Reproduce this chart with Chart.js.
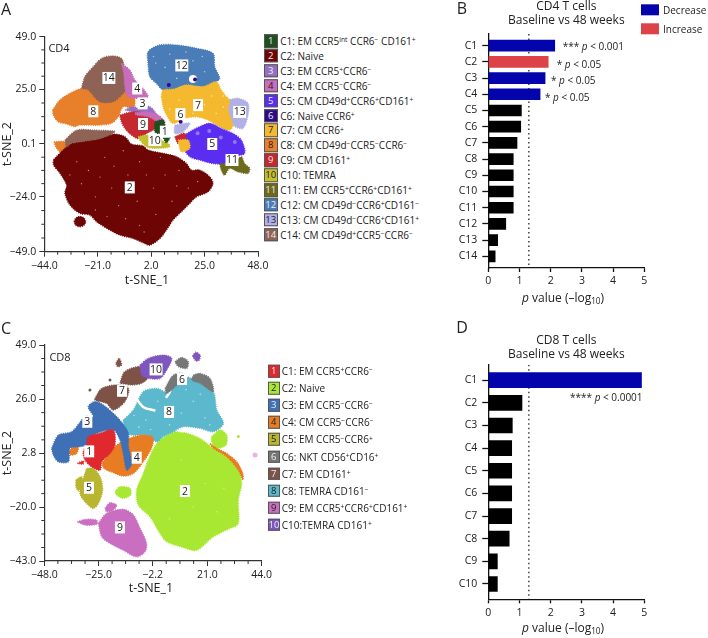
<!DOCTYPE html>
<html>
<head>
<meta charset="utf-8">
<script src="https://cdn.jsdelivr.net/npm/chart.js@4"></script>
<style>
html,body{margin:0;padding:0;background:#fff;}
#page{position:relative;width:708px;height:638px;overflow:hidden;font-family:"Open Sans",sans-serif;color:#222;}
#page canvas{position:absolute;}
.t{position:absolute;white-space:nowrap;line-height:1;}
.c{transform:translate(-50%,-50%);}
.l{transform:translateY(-50%);}
.t sup{font-size:0.68em;line-height:0;vertical-align:baseline;position:relative;top:-0.42em;}
.t sub{font-size:0.68em;line-height:0;vertical-align:baseline;position:relative;top:0.3em;}
.sw{position:absolute;box-sizing:border-box;border:1px solid #555;font-size:9.5px;text-align:center;transform:translateY(-50%);}
</style>
</head>
<body>
<div id="page">
<canvas id="tsneCd4" style="left:0;top:0"></canvas>
<canvas id="barCd4" style="left:450px;top:0"></canvas>
<canvas id="tsneCd8" style="left:0;top:320px"></canvas>
<canvas id="barCd8" style="left:450px;top:334px"></canvas>
</div>
<script>
// bar panels
const cd4Clusters = ['C1','C2','C3','C4','C5','C6','C7','C8','C9','C10','C11','C12','C13','C14'];
const cd4PValues = [2.13,1.92,1.82,1.66,1.06,1.04,0.92,0.80,0.80,0.80,0.80,0.56,0.30,0.22];
const cd4Change = ['d','i','d','d','n','n','n','n','n','n','n','n','n','n'];
const cd8Clusters = ['C1','C2','C3','C4','C5','C6','C7','C8','C9','C10'];
const cd8PValues = [4.91,1.08,0.77,0.75,0.75,0.75,0.75,0.67,0.29,0.29];
const cd8Change = ['d','n','n','n','n','n','n','n','n','n'];
const pTicks = [0,1,2,3,4,5];
const pCutoff = 1.3;

// t-SNE axes
const cd4XTicks = [-44,-21,2,25,48];
const cd4YTicks = [-49,-24,0.1,25,49];
const cd8XTicks = [-48,-25,-2.2,21,44];
const cd8YTicks = [-43,-20,2.8,26,49];

// CD4 cluster outlines, t-SNE_1 / t-SNE_2
const cd4C2 = [[-40,-7],[-34.4,-1.2],[-32.3,.4],[-20,2.6],[-14.3,4.6],[-9.3,3.4],[-6.5,.1],[-1.5,-.8],[.7,-2.7],[8.6,-4.5],[12.9,-5.7],[17.2,-8.8],[19.3,-11.8],[22.9,-11.8],[27.2,-14.8],[28.6,-17.9],[26.5,-21.7],[21.5,-24],[18.6,-27],[14.3,-31.5],[11.4,-34.6],[8.6,-39.1],[5.7,-43],[1.4,-46],[-1.5,-44.9],[-5.7,-43],[-11.5,-41.4],[-15.8,-39.1],[-21.5,-35.3],[-24.4,-32.3],[-28.7,-31.5],[-33,-27.7],[-35.1,-22.4],[-34.4,-18.6],[-37.2,-13.3],[-40,-9.5]];
const cd4C2b = [[-31.2,-35.3],[-30.4,-33.6],[-28.7,-33],[-27,-33.6],[-26.2,-35.3],[-27,-37],[-28.7,-37.6],[-30.4,-37]];
const cd4C14 = [[-28,25.4],[-26.5,30.8],[-22.9,35.3],[-19.4,39.1],[-15.1,40.2],[-10.8,39.1],[-9.3,33.8],[-7.9,26.2],[-10.8,22.4],[-14.3,19.4],[-20.1,19.4],[-25.1,24.7]];
const cd4C14b = [[-35.1,1.9],[-30.1,6.4],[-22.9,6.4],[-13.6,5.7],[-20,2.6],[-32.3,.4],[-34.4,-1.2]];
const cd4C8 = [[-40.4,15.6],[-37.3,20.1],[-33,23.2],[-28,25.4],[-25.1,24.7],[-20.1,20.1],[-14.3,19.4],[-11.5,23.2],[-6.5,23.9],[-5,20.1],[-5.7,16.3],[-10,17.1],[-12.2,12.5],[-15.1,9.5],[-20.1,8.7],[-28.7,8.7],[-30.8,8],[-34.4,9.2],[-38,10.2],[-40.1,13.3]];
const cd4C8b = [[-39.8,1.1],[-35.1,1.1],[-34.4,-1.2],[-35.8,-4.5],[-38.7,-1.9]];
const cd4C4 = [[-10.8,36.8],[-7.2,33.8],[-5,29.2],[-1.5,25.4],[.7,21.6],[-2.2,20.9],[-7.9,21.6],[-9.3,26.2],[-9.8,32.3]];
const cd4C3 = [[-9.3,15.6],[-5.7,17.1],[-2.9,16.3],[1.4,17.1],[4.3,13.3],[0,14],[-5.7,14.8]];
const cd4C9 = [[-11.5,13.3],[-5.7,14.8],[.7,14],[4.3,11],[3.6,7.2],[0,4.9],[-3.6,2.6],[-6.5,4.2],[-9.3,7.2],[-10.8,10.2]];
const cd4C4b = [[-5,14.3],[0,14.8],[5,13.3],[7.9,10.2],[5,10.2],[.7,12.5],[-4.3,13.3]];
const cd4C1 = [[3.6,10.2],[7.2,11],[7.9,7.2],[5.7,4.9],[3.6,5.7]];
const cd4C1b = [[7.2,3.1],[10,3.1],[8.6,.7]];
const cd4C10 = [[-3.6,3.4],[0,4.2],[4.3,2.6],[9.3,.4],[10,-1.2],[4.3,-1.9],[0,-1.2],[-2.9,1.9]];
const cd4C12 = [[.7,36.1],[.7,42.2],[5.7,45.2],[12.9,45.2],[21.5,43.7],[28.6,41.4],[29.4,35.3],[31.5,30],[30,28.5],[24.3,26.2],[17.2,27],[11.4,25],[7.1,24.7],[4.3,27.7],[1.4,30.8]];
const cd4C7 = [[6.4,21.6],[7.1,24.7],[11.4,25],[17.2,27],[24.3,26.2],[30,28.5],[32.2,24.7],[34.4,21.6],[35.8,20.1],[35.1,15.6],[37.2,8.7],[35.8,6.4],[31.5,8],[26.5,11],[21.5,12.5],[16.5,11.8],[11.4,9.5],[8.6,13.3],[7.1,17.1]];
const cd4C13 = [[35.1,20.1],[39.4,20.9],[43.7,18.6],[43.7,13.3],[41.5,7.2],[37.2,8.7],[35.1,14]];
const cd4C13b = [[12.2,8.7],[18.6,9.5],[15.8,5.7],[12.2,4.9]];
const cd4C5 = [[15.7,3.4],[18.6,5.7],[22.9,8],[27.2,9.5],[32.2,7.2],[37.2,4.9],[40.8,1.9],[42.2,-4.2],[37.2,-5.7],[34.4,-8.8],[28.6,-8.8],[22.9,-7.2],[18.6,-5.7],[16.5,-2.7]];
const cd4C9b = [[12.2,3.4],[16.5,4.9],[16.5,1.1],[13.6,.4]];
const cd4C7b = [[13.6,1.9],[17.9,1.9],[18.6,-1.9],[15,-3.4]];
const cd4C11 = [[31.5,-8.8],[37.2,-8.8],[40.8,-5.7],[42.2,-8.8],[44.4,-11],[43.7,-13.3],[39.4,-12.6],[35.8,-11],[33.6,-14.1],[32.2,-11.8]];
const cd4Holes = [[20,29.7]];
const cd4C6Dots = [[20.9,29.5],[9.6,27],[14.7,10.2]];
const cd4C2Specks = [[-25,-12],[-18,-6],[-10,-3],[-3,-8],[-8,-14],[-15,-20],[-22,-24],[-28,-18],[-30,-8],[-12,-28],[-4,-26],[3,-20],[8,-14],[14,-12],[18,-20],[11,-26],[4,-32],[-3,-37],[-9,-34],[-17,-33],[-22,-30],[-33,-14],[-6,-21],[0,-14],[6,-6],[-14,-10],[-20,-15],[22,-17],[13,-19],[-1,-40]];
const cd4C12Specks = [[4,37],[8,35],[20,38],[25,33],[13,30],[3,40],[17,42],[10,41],[24,40]];
const cd4C7Specks = [[14,20],[28,22],[33,17],[10,16],[20,14],[30,14],[25,18],[33,22]];
const cd4C5Patches = [[22,5],[32,3],[38,1],[27,6]];

// CD8 cluster outlines
const cd8C2 = [[7.3,12.1],[12.3,11.4],[17.9,9.2],[23.5,5],[29.2,1.4],[34.1,-4.3],[35.5,-10],[34.1,-17],[34.1,-27],[30.6,-29.1],[23.5,-32.7],[16.5,-38.4],[10.8,-37.2],[3.8,-34.8],[1,-31.3],[-3.3,-24.2],[-8.2,-19.2],[-8.9,-12.8],[-6.1,-5.7],[-4,0],[-.4,7.1],[3.8,10.6]];
const cd8C2b = [[22.8,10],[26.4,12.8],[29.2,10.6],[28.9,6.4],[24.9,5],[22.8,7.8]];
const cd8C2c = [[-18.1,-13.5],[-16,-11.4],[-11.7,-12.1],[-11.5,-14.9],[-14.6,-16.3],[-17.4,-14.9]];
const cd8C4b = [[22.1,7.1],[24.9,5],[29.2,2.8],[33.4,-.7],[36,-5.7],[36,-8.5],[34.1,-4.3],[29.2,1.4],[23.5,5]];
const cd8C8 = [[-14.6,17],[-10.3,21.3],[-6.1,29.1],[-.4,30.5],[3.8,29.1],[6.6,34.8],[12.3,35.5],[17.9,32.7],[23.5,29.1],[25,21.3],[27.8,15.6],[23.5,12.1],[17.9,13.5],[10.8,14.2],[6.6,12.1],[2.4,10],[-.4,7.8],[-4.7,10.6],[-10.3,10.6],[-13.9,11.4]];
const cd8Gap1 = [[4.5,35],[5.5,30],[3.5,26.5]];
const cd8Gap2 = [[-9,26],[-6,22.5],[-1,21]];
const cd8C6 = [[7.3,41.9],[10.1,43.7],[12.9,41.9],[12.3,39.1],[8.7,39.8]];
const cd8C6b = [[15.1,36.2],[17.9,36.9],[22.1,34.8],[23.5,29.1],[17.9,32.7],[14.4,34.1]];
const cd8C6c = [[3.1,30.5],[6.6,36.2],[10.8,36.9],[11.5,35.5],[7.3,31.2],[3.8,28.4]];
const cd8C10 = [[-7.5,40.5],[-4,43.3],[2.4,44.7],[5.9,43.3],[3.8,38.4],[1,34.8],[-4,34.8],[-6.8,36.2]];
const cd8C10b = [[14.7,44.3],[16.1,45.9],[17.9,44.7],[17.6,42.6],[16.2,42.2]];
const cd8C7 = [[-16,32.7],[-13.9,37.7],[-6.8,39.8],[-4,35.5],[-6.8,32.7],[-11,32]];
const cd8C7b = [[-26.6,26.3],[-23.7,30.5],[-17.4,32],[-12.4,30.5],[-13.9,24.9],[-18.8,21.3],[-21.6,24.1],[-26.6,25.6]];
const cd8C7c = [[-17.7,41.2],[-16.3,43.3],[-15.3,40.5],[-17,39.8]];
const cd8C4 = [[-23.7,-1.4],[-21.6,1.4],[-18.1,5.7],[-13.9,8.5],[-7.5,10.6],[-2.1,9.7],[-2.6,5],[-6.1,-.7],[-10.3,-5.7],[-14.6,-6.8],[-18.8,-5.4],[-22.7,-3.6]];
const cd8C4c = [[-37.8,3.5],[-35,6.4],[-33.6,5.7],[-34.3,2.8],[-36.9,2.1]];
const cd8C3 = [[-44.9,5],[-42.1,10.6],[-36.4,12.1],[-32.2,17],[-30.8,18.5],[-27.3,18.5],[-29.4,22.7],[-26.6,24.9],[-23,23.4],[-17.4,18.5],[-13.9,14.2],[-12.4,11.4],[-12.4,5.7],[-11,-1.4],[-13.1,-4.3],[-14.6,2.8],[-16,8.5],[-18.8,12.8],[-27.3,10.6],[-30.1,6.4],[-32.9,5.7],[-37.1,5],[-37.8,-.7],[-42.1,-.7],[-44.2,2.1]];
const cd8C1 = [[-30.1,6.4],[-29.4,9.9],[-24.4,11.4],[-18.8,12.8],[-18.1,6.4],[-20.2,2.8],[-23.7,-.7],[-24.4,-4.3],[-28,-2.9],[-30.8,0],[-31.5,3.5]];
const cd8C1b = [[-34,-1.4],[-31.5,-.4],[-31.5,-1.7]];
const cd8C5 = [[-30.1,-3.6],[-27.3,-3.6],[-24.4,-7.1],[-23.3,-12.8],[-25.1,-18.5],[-27.3,-20.6],[-30.8,-17.8],[-32.9,-14.2],[-32.2,-10]];
const cd8C5b = [[-34.6,-8.5],[-32.2,-7.1],[-31.8,-10.7],[-33.6,-13.1],[-34.6,-11.4]];
const cd8C9 = [[-25.1,-27],[-21.6,-22.7],[-14.6,-21],[-10.3,-23.4],[-7.5,-29.1],[-4.7,-35.5],[-5.4,-39.1],[-8.9,-41.2],[-14.6,-38.4],[-20.2,-35.5],[-23.7,-32.7]];
const cd8C9b = [[-34,-26.3],[-30.8,-25.3],[-25.8,-25.6],[-25.8,-27.3],[-30.8,-27.7]];
const cd8C9c = [[-22.3,-20.6],[-20.2,-18.2],[-17.4,-19.2],[-18.8,-21.3],[-21.6,-22]];
const cd8C7Dots = [[-20.2,34.1],[-28.7,29.8]];
const cd8C2Dots = [[34.1,10]];
const cd8C9Dots = [[41.2,2.1]];
const cd8C8Specks = [[-5,17],[0,25],[10,20],[15,25],[20,18],[-8,14],[5,15],[-3,13],[12,30],[-10,19],[18,28],[22,15]];
const cd8C2Specks = [[15,-20],[20,-10],[5,-25],[25,-22],[10,0],[28,-12]];

// number boxes on the maps
const cd4LabelX = [7.9,-7.2,-1.7,-4,28.3,14.6,22.2,-22.9,-1.5,3.6,36.8,15.2,40.1,-16.2];
const cd4LabelY = [5.7,-19.7,18.6,25.4,0.1,13.7,17.8,15,9.2,1.9,-7.2,35.9,14.7,30.2];
const cd8LabelX = [-29,11.5,-29.8,-8.9,-29.1,10.3,-15.1,4.8,-16,-0.7];
const cd8LabelY = [3.7,-13.2,16.3,1,-11.8,34.5,29.5,20.5,-28.7,38.6];

// legends
const cd4Colors = ['#1f4f1f','#6e0505','#9370c4','#c76dbb','#5a2df0','#2e0a8a','#f4b92e','#e87f2a','#c5282f','#c4bf2e','#6d6a1e','#4a7db8','#b0b0e6','#8e6255'];
const cd8Colors = ['#e0282f','#a8e832','#3f70b5','#e87c22','#b8b52e','#777777','#7e5246','#5cb8cc','#c96ec0','#7f55c0'];
const cd4Legend = ['C1: EM CCR5<sup>int</sup> CCR6<sup>−</sup> CD161<sup>+</sup>','C2: Naive','C3: EM CCR5<sup>+</sup>CCR6<sup>−</sup>','C4: EM CCR5<sup>−</sup>CCR6<sup>−</sup>','C5: CM CD49d<sup>+</sup>CCR6<sup>+</sup>CD161<sup>+</sup>','C6: Naive CCR6<sup>+</sup>','C7: CM CCR6<sup>+</sup>','C8: CM CD49d<sup>−</sup>CCR5<sup>−</sup>CCR6<sup>−</sup>','C9: CM CD161<sup>+</sup>','C10: TEMRA','C11: EM CCR5<sup>+</sup>CCR6<sup>+</sup>CD161<sup>+</sup>','C12: CM CD49d<sup>−</sup>CCR6<sup>+</sup>CD161<sup>−</sup>','C13: CM CD49d<sup>−</sup>CCR6<sup>+</sup>CD161<sup>+</sup>','C14: CM CD49d<sup>+</sup>CCR5<sup>−</sup>CCR6<sup>−</sup>'];
const cd8Legend = ['C1: EM CCR5<sup>+</sup>CCR6<sup>−</sup>','C2: Naive','C3: EM CCR5<sup>−</sup>CCR6<sup>−</sup>','C4: CM CCR5<sup>−</sup>CCR6<sup>−</sup>','C5: EM CCR5<sup>−</sup>CCR6<sup>+</sup>','C6: NKT CD56<sup>+</sup>CD16<sup>+</sup>','C7: EM CD161<sup>+</sup>','C8: TEMRA CD161<sup>−</sup>','C9: EM CCR5<sup>+</sup>CCR6<sup>+</sup>CD161<sup>+</sup>','C10:TEMRA CD161<sup>+</sup>'];
const cd4DarkNumbers = [4,7,8,10,13];
const cd8DarkNumbers = [2,4,5,8,9];

const BLUE = '#0404ac';
const RED = '#dc4246';
const FONT = '"Open Sans", sans-serif';
const AXIS = '#333';
Chart.defaults.font.family = FONT;
Chart.defaults.color = '#222';
Chart.defaults.animation = false;

function shape(points, color) {
  const closed = points.concat([points[0]]);
  return {
    data: closed.map(p => ({x: p[0], y: p[1]})),
    showLine: true, fill: 'shape', tension: 0.3,
    backgroundColor: color, borderColor: color, borderWidth: 1.4, borderDash: [1, 1.2],
    pointRadius: 0
  };
}
function gap(points) {
  return {
    data: points.map(p => ({x: p[0], y: p[1]})),
    showLine: true, fill: false, tension: 0.3,
    borderColor: '#fff', borderWidth: 2.5, pointRadius: 0
  };
}
function dots(points, color, r) {
  return {
    data: points.map(p => ({x: p[0], y: p[1]})),
    showLine: false, backgroundColor: color, borderColor: color, borderWidth: 0, pointRadius: r
  };
}

// number boxes and the short minor ticks
const tsneExtras = {
  id: 'tsneExtras',
  afterDraw(chart, args, opts) {
    const ctx = chart.ctx, x = chart.scales.x, y = chart.scales.y;
    ctx.save();
    ctx.strokeStyle = AXIS;
    ctx.lineWidth = 1;
    for (let i = 0; i < opts.xTicks.length - 1; i++) {
      for (let k = 1; k < 4; k++) {
        const px = x.getPixelForValue(opts.xTicks[i] + (opts.xTicks[i + 1] - opts.xTicks[i]) * k / 4);
        ctx.beginPath(); ctx.moveTo(px, y.bottom); ctx.lineTo(px, y.bottom + 3); ctx.stroke();
      }
    }
    for (let i = 0; i < opts.yTicks.length - 1; i++) {
      for (let k = 1; k < 4; k++) {
        const py = y.getPixelForValue(opts.yTicks[i] + (opts.yTicks[i + 1] - opts.yTicks[i]) * k / 4);
        ctx.beginPath(); ctx.moveTo(x.left, py); ctx.lineTo(x.left - 3, py); ctx.stroke();
      }
    }
    ctx.font = '10.5px ' + FONT;
    ctx.textAlign = 'center';
    ctx.textBaseline = 'middle';
    opts.labelX.forEach((v, i) => {
      const px = x.getPixelForValue(v), py = y.getPixelForValue(opts.labelY[i]);
      const text = String(i + 1);
      const w = text.length > 1 ? 13 : 10;
      ctx.fillStyle = '#fff';
      ctx.fillRect(px - w / 2, py - 6, w, 12);
      ctx.fillStyle = '#222';
      ctx.fillText(text, px, py + 0.5);
    });
    ctx.restore();
  }
};

function tsneChart(id, w, h, left, right, top, xScaleH, xTicks, yTicks, sets, labelX, labelY) {
  const el = document.getElementById(id);
  el.width = w; el.height = h;
  el.style.width = w + 'px'; el.style.height = h + 'px';
  const fmt = v => (v < 0 ? '−' : '') + Math.abs(v).toFixed(1);
  sets.forEach((s, i) => { s.order = sets.length - i; });
  return new Chart(el, {
    type: 'scatter',
    data: {datasets: sets},
    plugins: [tsneExtras],
    options: {
      responsive: false,
      layout: {autoPadding: false, padding: {left: 0, right: right, top: top, bottom: 0}},
      plugins: {
        legend: {display: false}, tooltip: {enabled: false},
        tsneExtras: {xTicks, yTicks, labelX, labelY}
      },
      scales: {
        x: {
          type: 'linear', min: xTicks[0], max: xTicks[xTicks.length - 1],
          afterBuildTicks(s) { s.ticks = xTicks.map(v => ({value: v})); },
          afterFit(s) { s.height = xScaleH; },
          ticks: {callback: fmt, maxRotation: 0, autoSkip: false, padding: 3, font: {size: 10.5}},
          grid: {drawOnChartArea: false, tickLength: 5, tickColor: AXIS, tickWidth: 1},
          border: {color: AXIS, width: 1.2}
        },
        y: {
          type: 'linear', min: yTicks[0], max: yTicks[yTicks.length - 1],
          afterBuildTicks(s) { s.ticks = yTicks.map(v => ({value: v})); },
          afterFit(s) { s.width = left; },
          ticks: {callback: fmt, autoSkip: false, padding: 3, font: {size: 10.5}},
          grid: {drawOnChartArea: false, tickLength: 5, tickColor: AXIS, tickWidth: 1},
          border: {color: AXIS, width: 1.2},
          title: {display: true, text: 't-SNE_2', font: {size: 12.5}, padding: {top: 0, bottom: 0.5}}
        }
      }
    }
  });
}

function barChart(id, w, h, right, xScaleH, titleBottom, titleText, names, values, change, thickness, yMin, yMax) {
  const el = document.getElementById(id);
  el.width = w; el.height = h;
  el.style.width = w + 'px'; el.style.height = h + 'px';
  const colors = change.map(c => c === 'd' ? BLUE : c === 'i' ? RED : '#000');
  return new Chart(el, {
    data: {
      datasets: [
        {type: 'bar', order: 1, data: values.map((v, i) => ({x: v, y: i + 1})), backgroundColor: colors, barThickness: thickness, borderWidth: 0},
        {type: 'scatter', indexAxis: 'x', order: 2, showLine: true, data: [{x: pCutoff, y: yMin}, {x: pCutoff, y: yMax}], borderColor: '#222', borderWidth: 1.3, borderDash: [1.5, 3], pointRadius: 0, fill: false}
      ]
    },
    options: {
      responsive: false,
      indexAxis: 'y',
      layout: {autoPadding: false, padding: {right: right}},
      plugins: {
        legend: {display: false}, tooltip: {enabled: false},
        // fullSize off so the title centres over the plot, not the canvas
        title: {display: true, fullSize: false, text: titleText, color: '#222', font: {size: 12, weight: 'normal', lineHeight: 1.14}, padding: {top: 0, bottom: titleBottom}}
      },
      scales: {
        x: {
          type: 'linear', min: pTicks[0], max: pTicks[pTicks.length - 1],
          afterBuildTicks(s) { s.ticks = pTicks.map(v => ({value: v})); },
          afterFit(s) { s.height = xScaleH; },
          ticks: {maxRotation: 0, autoSkip: false, padding: 3, font: {size: 10.5}},
          grid: {drawOnChartArea: false, tickLength: 4, tickColor: '#111', tickWidth: 1.3},
          border: {color: '#111', width: 1.3}
        },
        y: {
          type: 'linear', reverse: true, min: yMin, max: yMax, offset: false,
          afterBuildTicks(s) { s.ticks = names.map((n, i) => ({value: i + 1})); },
          afterFit(s) { s.width = 38.3; },
          ticks: {callback: v => names[v - 1], autoSkip: false, padding: 5, font: {size: 10.5}},
          grid: {offset: false, drawOnChartArea: false, tickLength: 6, tickColor: '#111', tickWidth: 1.3},
          border: {color: '#111', width: 1.3}
        }
      }
    }
  });
}

tsneChart('tsneCd4', 280, 300, 44.3, 22, 36.7, 48.3, cd4XTicks, cd4YTicks, [
  shape(cd4C8b, cd4Colors[7]), shape(cd4C2, cd4Colors[1]), shape(cd4C2b, cd4Colors[1]), shape(cd4C14b, cd4Colors[13]),
  shape(cd4C8, cd4Colors[7]), shape(cd4C14, cd4Colors[13]), shape(cd4C4, cd4Colors[3]), shape(cd4C3, cd4Colors[2]),
  shape(cd4C9, cd4Colors[8]), shape(cd4C4b, cd4Colors[3]), shape(cd4C1, cd4Colors[0]), shape(cd4C10, cd4Colors[9]),
  shape(cd4C1b, cd4Colors[0]), shape(cd4C12, cd4Colors[11]), shape(cd4C13, cd4Colors[12]), shape(cd4C7, cd4Colors[6]),
  shape(cd4C13b, cd4Colors[12]), shape(cd4C5, cd4Colors[4]), shape(cd4C9b, cd4Colors[8]), shape(cd4C7b, cd4Colors[6]),
  shape(cd4C11, cd4Colors[10]), dots(cd4Holes, '#fff', 4), dots(cd4C6Dots, cd4Colors[5], 2),
  dots(cd4C2Specks, '#b98888', 0.7), dots(cd4C12Specks, '#a9c2de', 0.8), dots(cd4C7Specks, '#fbe6a8', 0.8),
  dots(cd4C5Patches, '#8f78f0', 2)
], cd4LabelX, cd4LabelY);

tsneChart('tsneCd8', 280, 300, 44.3, 18.3, 25, 59, cd8XTicks, cd8YTicks, [
  shape(cd8C9, cd8Colors[8]), shape(cd8C9b, cd8Colors[8]), shape(cd8C9c, cd8Colors[8]),
  shape(cd8C2, cd8Colors[1]), shape(cd8C2b, cd8Colors[1]), shape(cd8C2c, cd8Colors[1]), shape(cd8C4b, cd8Colors[3]),
  shape(cd8C8, cd8Colors[7]), gap(cd8Gap1), gap(cd8Gap2), shape(cd8C6, cd8Colors[5]), shape(cd8C6b, cd8Colors[5]), shape(cd8C6c, cd8Colors[5]),
  shape(cd8C7, cd8Colors[6]), shape(cd8C7b, cd8Colors[6]), shape(cd8C7c, cd8Colors[6]),
  shape(cd8C10, cd8Colors[9]), shape(cd8C10b, cd8Colors[9]),
  shape(cd8C4, cd8Colors[3]), shape(cd8C4c, cd8Colors[3]), shape(cd8C3, cd8Colors[2]), shape(cd8C1, cd8Colors[0]), shape(cd8C1b, cd8Colors[0]),
  shape(cd8C5, cd8Colors[4]), shape(cd8C5b, cd8Colors[4]),
  dots(cd8C7Dots, cd8Colors[6], 1.5), dots(cd8C2Dots, cd8Colors[1], 1.5), dots(cd8C9Dots, '#e7b5e0', 2.5),
  dots(cd8C8Specks, '#b4e0ea', 0.8), dots(cd8C2Specks, '#d0ef90', 0.8)
], cd8LabelX, cd8LabelY);

barChart('barCd4', 233, 310, 38.7, 42, 6.6, ['CD4 T cells', 'Baseline vs 48 weeks'], cd4Clusters, cd4PValues, cd4Change, 11, 0.28, 14.72);
barChart('barCd8', 233, 304, 38.7, 38.7, 3.5, ['CD8 T cells', 'Baseline vs 48 weeks'], cd8Clusters, cd8PValues, cd8Change, 15, 0.324, 10.676);

// text around the charts
const page = document.getElementById('page');
function put(html, x, y, cls, size, extra) {
  const d = document.createElement('div');
  d.className = 't ' + cls;
  d.style.left = x + 'px';
  d.style.top = y + 'px';
  d.style.fontSize = size + 'px';
  if (extra) d.style.cssText += extra;
  d.innerHTML = html;
  page.appendChild(d);
}
function legendColumn(items, colors, darkNums, swX, swSize, textX, firstY, stepY) {
  items.forEach((txt, i) => {
    const y = firstY + stepY * i;
    const s = document.createElement('div');
    s.className = 'sw';
    s.style.cssText = 'left:' + swX + 'px;top:' + y + 'px;width:' + swSize + 'px;height:' + swSize + 'px;line-height:' + (swSize - 2) + 'px;background:' + colors[i] + ';color:' + (darkNums.includes(i + 1) ? '#222' : '#eee');
    s.textContent = i + 1;
    page.appendChild(s);
    put(txt, textX, y, 'l', 10);
  });
}
put('A', 6, 9, 'c', 16);
put('B', 462, 8, 'c', 16);
put('C', 6, 328, 'c', 16);
put('D', 462, 327, 'c', 16);
put('CD4', 59, 47, 'c', 11);
put('CD8', 60, 356, 'c', 11);
put('t-SNE_1', 147, 280, 'c', 12.5);
put('t-SNE_1', 151, 588, 'c', 12.5);
legendColumn(cd4Legend, cd4Colors, cd4DarkNumbers, 264, 13.5, 280.3, 41, 14.9);
legendColumn(cd8Legend, cd8Colors, cd8DarkNumbers, 267.5, 12.5, 281.7, 371, 17.1);

put('', 640.7, 9.6, 'l', 10, 'width:18.6px;height:11.4px;background:' + BLUE + ';');
put('', 640.7, 29, 'l', 10, 'width:18.6px;height:11.4px;background:' + RED + ';');
put('Decrease', 663, 9.5, 'l', 10);
put('Increase', 663, 29.3, 'l', 10);

put('<i>p</i> value (–log<sub>10</sub>)', 563, 298, 'c', 12);
put('<i>p</i> value (–log<sub>10</sub>)', 563, 628, 'c', 12);
put('*** <i>p</i> &lt; 0.001', 562.7, 46, 'l', 10);
put('* <i>p</i> &lt; 0.05', 556.7, 64, 'l', 10);
put('* <i>p</i> &lt; 0.05', 551, 80, 'l', 10);
put('* <i>p</i> &lt; 0.05', 545, 96.7, 'l', 10);
put('**** <i>p</i> &lt; 0.0001', 570, 397.3, 'l', 10);
</script>
</body>
</html>
